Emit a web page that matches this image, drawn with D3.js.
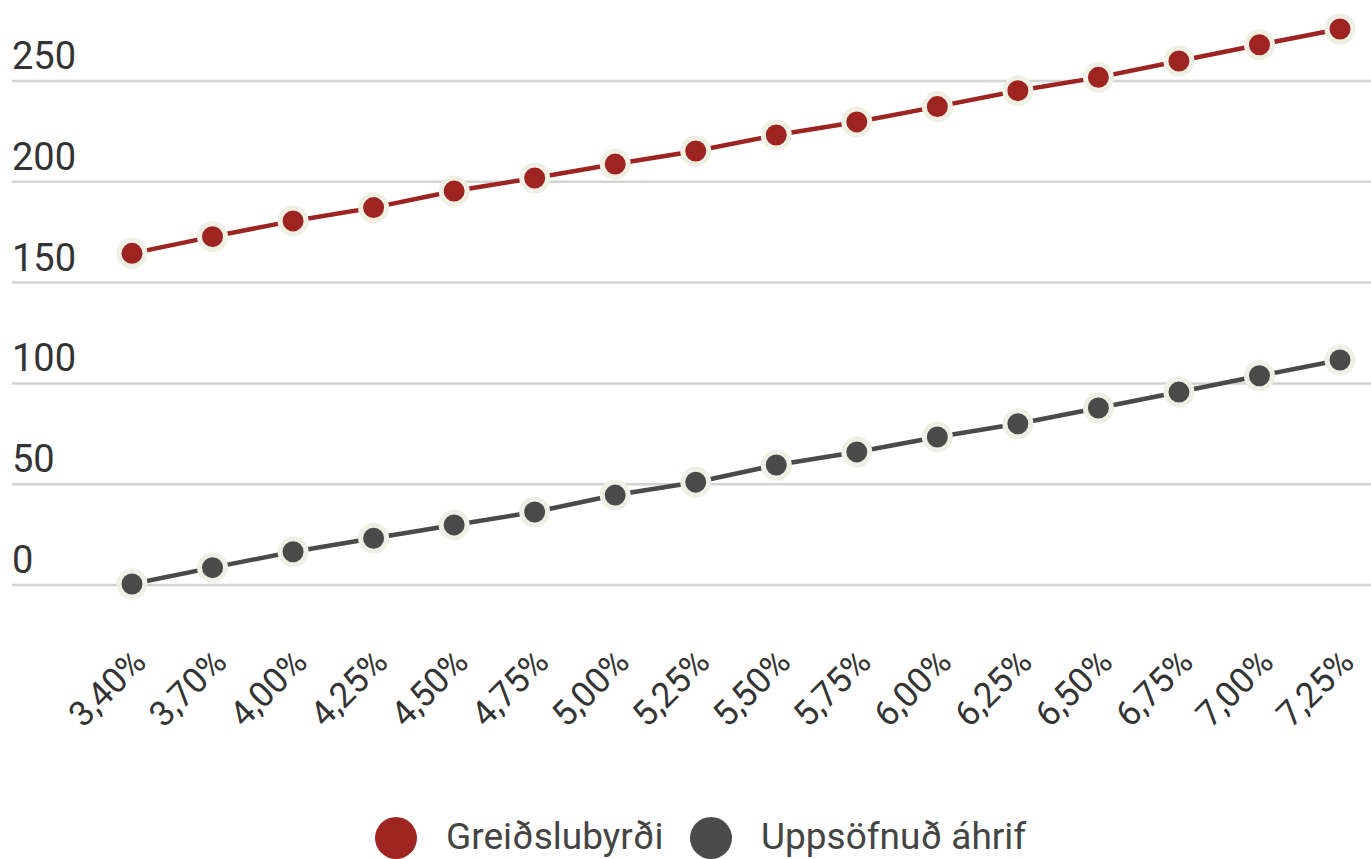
<!DOCTYPE html>
<html>
<head>
<meta charset="utf-8">
<script src="https://cdn.jsdelivr.net/npm/d3@7"></script>
<style>
  body { margin: 0; background: #fff; }
  text { font-family: Roboto, "Open Sans", sans-serif; fill: #333; }
</style>
</head>
<body>
<div id="chart"></div>
<script>
// rate scenarios on x axis
const rates = ["3,40%", "3,70%", "4,00%", "4,25%", "4,50%", "4,75%", "5,00%", "5,25%",
  "5,50%", "5,75%", "6,00%", "6,25%", "6,50%", "6,75%", "7,00%", "7,25%"];

const greidslubyrdi = [164.5, 172.8, 180.6, 187.2, 195.4, 201.9, 208.8, 215.3,
  223.2, 229.7, 237.3, 245.2, 251.8, 259.9, 268.0, 275.8];

const uppsofnud = [0.5, 8.6, 16.5, 23.2, 29.8, 36.2, 44.6, 51.0,
  59.5, 66.0, 73.4, 80.0, 87.8, 95.7, 103.8, 111.6];

const yTicks = [0, 50, 100, 150, 200, 250];

const seriesNames = ["Greiðslubyrði", "Uppsöfnuð áhrif"];
const seriesColors = ["#9e2421", "#4a4a4a"];

const width = 1371, height = 859;

const svg = d3.select("#chart")
  .append("svg")
  .attr("width", width)
  .attr("height", height);

const x = d3.scalePoint()
  .domain(rates)
  .range([132, 1340]);

const y = d3.scaleLinear()
  .domain([0, 250])
  .range([585, 81]);

// gridlines + y labels
const grid = svg.append("g");
grid.selectAll("line")
  .data(yTicks)
  .enter()
  .append("line")
  .attr("x1", 12)
  .attr("x2", width)
  .attr("y1", d => y(d))
  .attr("y2", d => y(d))
  .attr("stroke", "#d3d3d3")
  .attr("stroke-width", 2.5);

grid.selectAll("text")
  .data(yTicks)
  .enter()
  .append("text")
  .attr("x", 12)
  .attr("y", d => y(d) - 12)
  .style("font-size", "38px")
  .text(d => d);

// x labels, rotated
svg.append("g")
  .selectAll("text")
  .data(rates)
  .enter()
  .append("text")
  .attr("text-anchor", "end")
  .attr("transform", d => `translate(${x(d) + 16},${664}) rotate(-45)`)
  .style("font-size", "35px")
  .text(d => d);

const series = [greidslubyrdi, uppsofnud];

const line = d3.line()
  .x((d, i) => x(rates[i]))
  .y(d => y(d));

series.forEach((vals, si) => {
  const g = svg.append("g");
  g.append("path")
    .datum(vals)
    .attr("d", line)
    .attr("fill", "none")
    .attr("stroke", seriesColors[si])
    .attr("stroke-width", 4.5);

  g.selectAll("circle")
    .data(vals)
    .enter()
    .append("circle")
    .attr("cx", (d, i) => x(rates[i]))
    .attr("cy", d => y(d))
    .attr("r", 13)
    .attr("fill", seriesColors[si])
    .attr("stroke", "#efefe3")
    .attr("stroke-width", 5);
});

// legend
const legendX = [396, 711];
const legend = svg.append("g");
seriesNames.forEach((name, i) => {
  legend.append("circle")
    .attr("cx", legendX[i])
    .attr("cy", 838)
    .attr("r", 21)
    .attr("fill", seriesColors[i]);
  legend.append("text")
    .attr("x", legendX[i] + 50)
    .attr("y", 849)
    .style("font-size", "37px")
    .style("fill", "#444")
    .text(name);
});
</script>
</body>
</html>
